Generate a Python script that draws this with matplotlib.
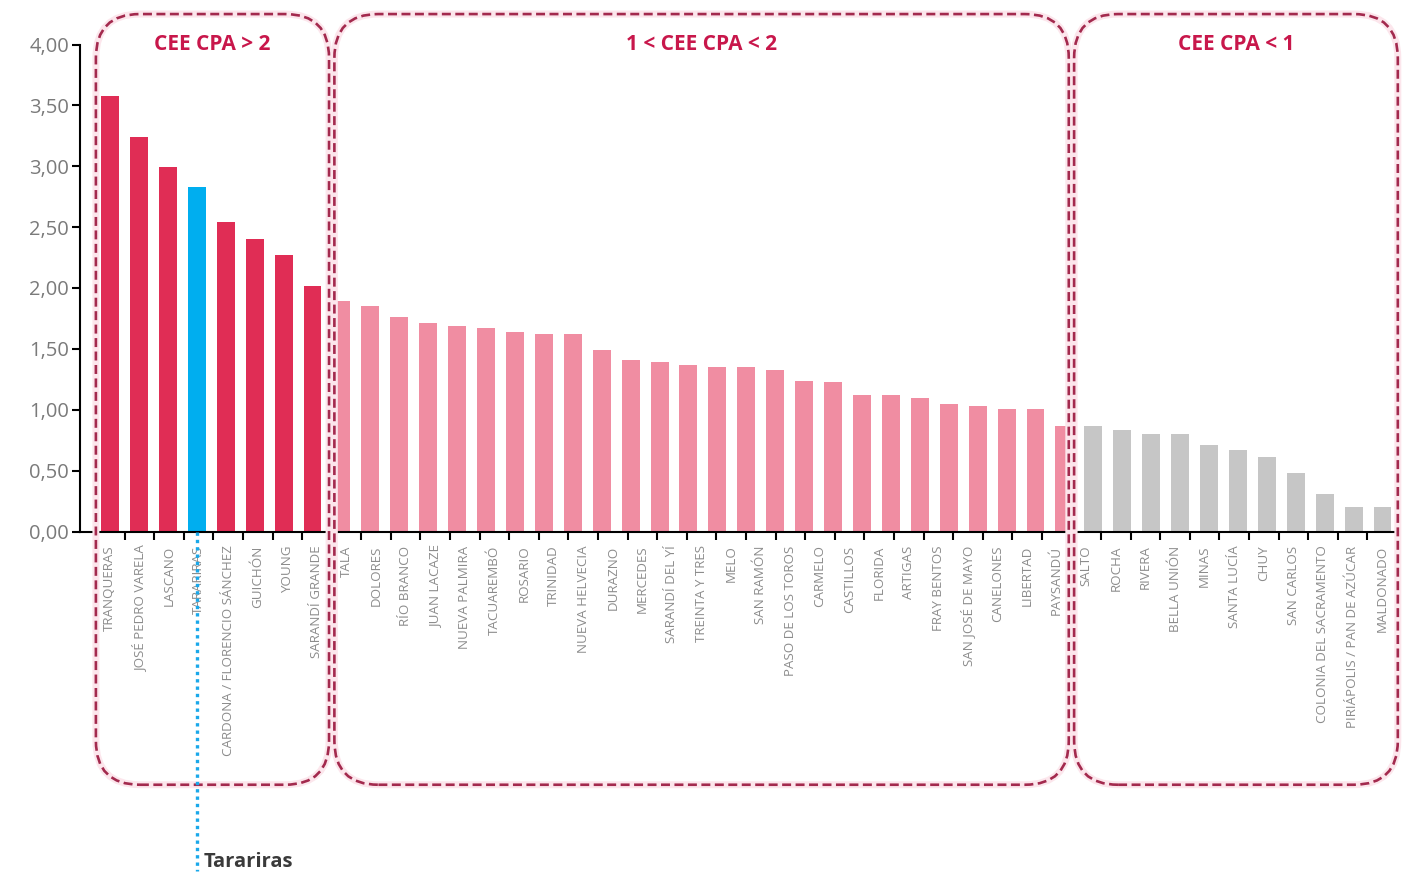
import numpy as np
import matplotlib
matplotlib.use('Agg')
import matplotlib.pyplot as plt
from matplotlib.patches import FancyBboxPatch

plt.rcParams['font.family'] = ['Open Sans', 'DejaVu Sans']

high_labels = ['TRANQUERAS', 'JOSÉ PEDRO VARELA', 'LASCANO', 'TARARIRAS',
               'CARDONA / FLORENCIO SÁNCHEZ', 'GUICHÓN', 'YOUNG', 'SARANDÍ GRANDE']
mid_labels = ['TALA', 'DOLORES', 'RÍO BRANCO', 'JUAN LACAZE', 'NUEVA PALMIRA',
              'TACUAREMBÓ', 'ROSARIO', 'TRINIDAD', 'NUEVA HELVECIA', 'DURAZNO',
              'MERCEDES', 'SARANDÍ DEL YÍ', 'TREINTA Y TRES', 'MELO', 'SAN RAMÓN',
              'PASO DE LOS TOROS', 'CARMELO', 'CASTILLOS', 'FLORIDA', 'ARTIGAS',
              'FRAY BENTOS', 'SAN JOSÉ DE MAYO', 'CANELONES', 'LIBERTAD', 'PAYSANDÚ']
low_labels = ['SALTO', 'ROCHA', 'RIVERA', 'BELLA UNIÓN', 'MINAS', 'SANTA LUCÍA', 'CHUY',
              'SAN CARLOS', 'COLONIA DEL SACRAMENTO', 'PIRIÁPOLIS / PAN DE AZÚCAR',
              'MALDONADO']

high_vals = [3.58, 3.24, 2.99, 2.83, 2.54, 2.40, 2.27, 2.02]
# the original draws 26 bars in the middle block but only 25 labels under it
mid_vals = [1.89, 1.85, 1.76, 1.71, 1.69, 1.67, 1.64, 1.62, 1.62, 1.49, 1.41, 1.39, 1.37,
            1.35, 1.35, 1.33, 1.24, 1.23, 1.12, 1.12, 1.10, 1.05, 1.03, 1.01, 1.01, 0.87]
low_vals = [0.87, 0.83, 0.80, 0.80, 0.71, 0.67, 0.61, 0.48, 0.31, 0.20, 0.20]

group_titles = ['CEE CPA > 2', '1 < CEE CPA < 2', 'CEE CPA < 1']
group_colors = ['#E02D55', '#F08DA2', '#C6C6C6']
highlight_idx = 3
highlight_name = 'Tarariras'
highlight_color = '#00AEEF'

yticks = [0, 0.5, 1, 1.5, 2, 2.5, 3, 3.5, 4]
ytick_labels = ['0,00', '0,50', '1,00', '1,50', '2,00', '2,50', '3,00', '3,50', '4,00']

W, H = 1424, 874
fig = plt.figure(figsize=(W / 100, H / 100), dpi=100)
ax = fig.add_axes([80 / W, 1 - 531.5 / H, 1319 / W, 487 / H])

vals = high_vals + mid_vals + low_vals
colors = ([group_colors[0]] * len(high_vals) + [group_colors[1]] * len(mid_vals)
          + [group_colors[2]] * len(low_vals))
colors[highlight_idx] = highlight_color
xb = np.arange(len(vals))
ax.bar(xb, vals, width=0.62, color=colors, zorder=2)
ax.set_xlim(-1.04, 44.57)
ax.set_ylim(0, 4)
ax.set_xticks([])
ax.set_yticks(yticks)
ax.set_yticklabels(ytick_labels)
ax.tick_params(axis='y', length=6, width=1.5, pad=2, labelsize=14.5, labelcolor='#7a7a7a')
for s in ['top', 'right']:
    ax.spines[s].set_visible(False)
ax.spines['left'].set_linewidth(1.5)
ax.spines['bottom'].set_linewidth(1.5)

# label axis
labels = high_labels + mid_labels + low_labels
ax2 = ax.twiny()
ax2.set_xlim(-0.507, 44.07)
ax2.xaxis.set_ticks_position('bottom')
ax2.set_xticks(np.arange(len(labels) + 1))
ax2.set_xticklabels([])
ax2.set_xticks(np.arange(len(labels)) + 0.5, minor=True)
ax2.set_xticklabels(labels, minor=True, rotation=90, va='top', ha='center')
ax2.tick_params(axis='x', which='major', length=6, width=1.5, direction='out')
ax2.tick_params(axis='x', which='minor', length=0, pad=10, labelsize=9.6, labelcolor='#8c8c8c')
for s in ax2.spines.values():
    s.set_visible(False)

# dashed group boxes and annotation, drawn in pixel space
ov = fig.add_axes([0, 0, 1, 1], facecolor='none')
ov.set_xlim(0, W)
ov.set_ylim(0, H)
ov.axis('off')

n1, n2 = len(high_labels), len(high_labels) + len(mid_labels)
bounds = [(0, n1), (n1, n2), (n2, len(labels))]
box_top, box_bottom = 4.25, -2.08
inset = 0.09
for i, (a, b) in enumerate(bounds):
    a_in = a + (inset if a > 0 else 0.03)
    b_in = b - (inset if b < len(labels) else -0.03)
    x0, y0 = ax2.transData.transform((a_in, box_bottom))
    x1, y1 = ax2.transData.transform((b_in, box_top))
    for lw, col, ls in [(5, '#FCE6EC', '-'), (1.9, '#A32A4E', (0, (3.4, 1.7)))]:
        p = FancyBboxPatch((x0, y0), x1 - x0, y1 - y0,
                           boxstyle='round,pad=0,rounding_size=44',
                           fill=False, edgecolor=col, linewidth=lw, linestyle=ls)
        ov.add_patch(p)
    xc = (x0 + x1) / 2
    yc = ax.transData.transform((0, 4.0))[1]
    ov.text(xc, yc, group_titles[i], ha='center', va='center', fontsize=15,
            fontweight='bold', color='#C8174B')

hx, hy = ax.transData.transform((xb[highlight_idx], 0))
ov.plot([hx, hx], [hy, 3], color='#1AA8EA', lw=2.4, linestyle=(0, (1, 1.2)),
        dash_capstyle='butt')
ov.text(hx + 7, 12, highlight_name, ha='left', va='center', fontsize=14.5,
        fontweight='bold', color='#3a3a3a')

fig.savefig('out.png', dpi=100)
